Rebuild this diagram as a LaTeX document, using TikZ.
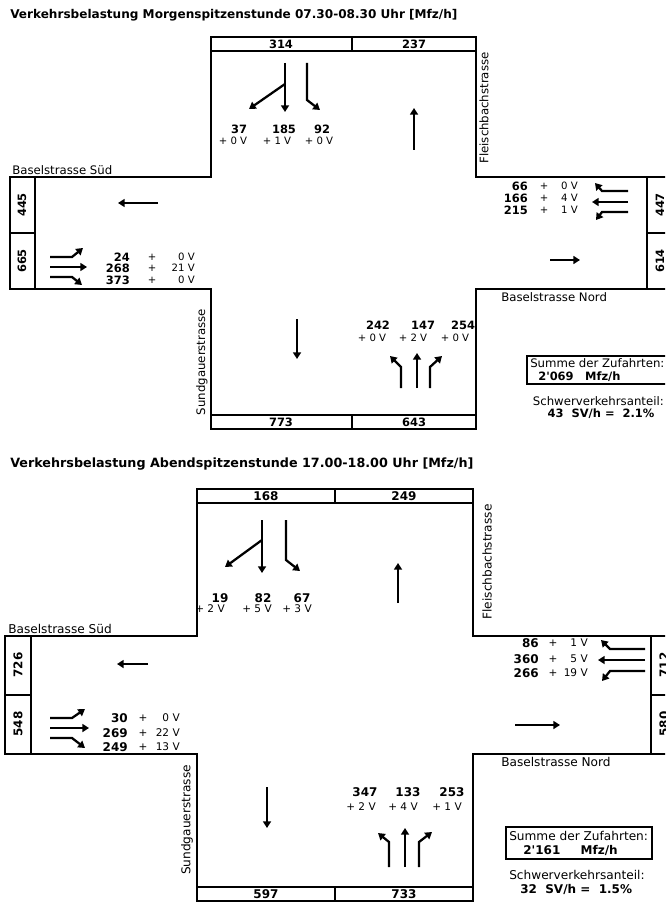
\documentclass[tikz,border=0pt]{standalone}
\usepackage{fontspec}
\setmainfont{DejaVu Sans}[Ligatures=TeXOff]
\usetikzlibrary{arrows.meta}
\newcommand{\numsize}{8.6}
\newcommand{\hvsize}{7.6}
\newcommand{\txtsize}{8.8}
\newcommand{\titlesize}{9.05}
\tikzset{
  crossline/.style={line width=0.9pt},
  flowarrow/.style={line width=1.7pt,-{Triangle[length=5pt,width=6pt]}},
  titletext/.style={font=\bfseries\fontsize{\titlesize}{11}\selectfont,anchor=west,inner sep=0pt},
  volnum/.style={font=\bfseries\fontsize{\numsize}{10}\selectfont,inner sep=0pt},
  hvtext/.style={font=\fontsize{\hvsize}{9}\selectfont,inner sep=0pt},
  streetname/.style={font=\fontsize{\txtsize}{10}\selectfont,inner sep=0pt},
  sumtext/.style={font=\fontsize{\txtsize}{10}\selectfont,inner sep=0pt},
  sumnum/.style={font=\bfseries\fontsize{\numsize}{10}\selectfont,inner sep=0pt}
}
\begin{document}
\begin{tikzpicture}[x=0.75pt,y=-0.75pt]
  \useasboundingbox (0,0) rectangle (665,902);
  \clip (0,0) rectangle (665,902);

  % Morgenspitze
  \node[titletext] (titleM) at (10,15) {Verkehrsbelastung Morgenspitzenstunde 07.30-08.30 Uhr [Mfz/h]};
  \draw[crossline] (211,37) rectangle (476,51) (352,37) -- (352,51);
  \draw[crossline] (211,51) -- (211,177) -- (10,177) -- (10,289) -- (211,289) -- (211,415);
  \draw[crossline] (476,51) -- (476,177) -- (680,177) (680,289) -- (476,289) -- (476,415);
  \draw[crossline] (211,415) rectangle (476,429) (352,415) -- (352,429);
  \draw[crossline] (35,177) -- (35,289) (10,233) -- (35,233);
  \draw[crossline] (647,177) -- (647,289) (647,233) -- (680,233);
  \node[volnum] (qnM1) at (281,44) {314};
  \node[volnum] (qnM2) at (414,44) {237};
  \node[volnum] (qsM1) at (281,422) {773};
  \node[volnum] (qsM2) at (414,422) {643};
  \node[volnum,rotate=90] (qwM1) at (22,205) {445};
  \node[volnum,rotate=90] (qwM2) at (22,261) {665};
  \node[volnum,rotate=90] (qoM1) at (660,205) {447};
  \node[volnum,rotate=90] (qoM2) at (660,261) {614};
  \node[streetname,anchor=south west] (strM1) at (12,175) {Baselstrasse Süd};
  \node[streetname,anchor=north west] (strM2) at (501,292) {Baselstrasse Nord};
  \node[streetname,rotate=90] (strM3) at (484,108) {Fleischbachstrasse};
  \node[streetname,rotate=90] (strM4) at (202,362) {Sundgauerstrasse};
  % Zufahrt Nord
  \draw[flowarrow] (285,63) -- (285,112);
  \draw[flowarrow] (285,84) -- (249,109);
  \draw[flowarrow] (307,63) -- (307,100) -- (320,110);
  \draw[flowarrow] (414,150) -- (414,108);
  \node[volnum] (nM1) at (239,129) {37};
  \node[volnum] (nM2) at (284,129) {185};
  \node[volnum] (nM3) at (322,129) {92};
  \node[hvtext] (nsvM1) at (233,141) {+ 0 V};
  \node[hvtext] (nsvM2) at (277,141) {+ 1 V};
  \node[hvtext] (nsvM3) at (319,141) {+ 0 V};
  % Zufahrt West
  \draw[flowarrow] (158,203) -- (118,203);
  \draw[flowarrow] (50,257) -- (72,257) -- (83,248);
  \draw[flowarrow] (50,267) -- (87,267);
  \draw[flowarrow] (50,277) -- (72,277) -- (82,285);
  \node[volnum,anchor=east] (wM1) at (130,257) {24};
  \node[volnum,anchor=east] (wM2) at (130,268) {268};
  \node[volnum,anchor=east] (wM3) at (130,280) {373};
  \node[hvtext] (wpM1) at (152,257) {+};
  \node[hvtext] (wpM2) at (152,268) {+};
  \node[hvtext] (wpM3) at (152,280) {+};
  \node[hvtext,anchor=east] (wsvM1) at (195,257) {0 V};
  \node[hvtext,anchor=east] (wsvM2) at (195,268) {21 V};
  \node[hvtext,anchor=east] (wsvM3) at (195,280) {0 V};
  % Zufahrt Ost
  \draw[flowarrow] (628,191) -- (602,191) -- (595,183);
  \draw[flowarrow] (628,202) -- (592,202);
  \draw[flowarrow] (628,212) -- (602,212) -- (596,220);
  \draw[flowarrow] (550,260) -- (580,260);
  \node[volnum,anchor=east] (oM1) at (528,186) {66};
  \node[volnum,anchor=east] (oM2) at (528,198) {166};
  \node[volnum,anchor=east] (oM3) at (528,210) {215};
  \node[hvtext] (opM1) at (544,186) {+};
  \node[hvtext] (opM2) at (544,198) {+};
  \node[hvtext] (opM3) at (544,210) {+};
  \node[hvtext,anchor=east] (osvM1) at (578,186) {0 V};
  \node[hvtext,anchor=east] (osvM2) at (578,198) {4 V};
  \node[hvtext,anchor=east] (osvM3) at (578,210) {1 V};
  % Zufahrt Sued
  \draw[flowarrow] (297,319) -- (297,359);
  \draw[flowarrow] (401,388) -- (401,367) -- (390,356);
  \draw[flowarrow] (417,388) -- (417,353);
  \draw[flowarrow] (430,388) -- (430,367) -- (442,356);
  \node[volnum] (sM1) at (378,325) {242};
  \node[volnum] (sM2) at (423,325) {147};
  \node[volnum] (sM3) at (463,325) {254};
  \node[hvtext] (ssvM1) at (372,338) {+ 0 V};
  \node[hvtext] (ssvM2) at (413,338) {+ 2 V};
  \node[hvtext] (ssvM3) at (455,338) {+ 0 V};
  % Summen
  \draw[crossline] (527,356) rectangle (668,384);
  \node[sumtext,anchor=west] (sumM1) at (530,363) {Summe der Zufahrten:};
  \node[sumnum,anchor=west] (sumM2) at (538,377) {2'069\quad Mfz/h};
  \node[sumtext,anchor=east] (svM1) at (664,401) {Schwerverkehrsanteil:};
  \node[sumnum] (svM2) at (601,414) {43\ \ SV/h =\ \ 2.1\%};

  % Abendspitze
  \begin{scope}
  \renewcommand{\numsize}{9}
  \renewcommand{\hvsize}{7.9}
  \renewcommand{\txtsize}{9.1}
  \renewcommand{\titlesize}{9.55}
  \node[titletext] (titleA) at (10,464) {Verkehrsbelastung Abendspitzenstunde 17.00-18.00 Uhr [Mfz/h]};
  \draw[crossline] (197,489) rectangle (473,503) (335,489) -- (335,503);
  \draw[crossline] (197,503) -- (197,636) -- (5,636) -- (5,754) -- (197,754) -- (197,887);
  \draw[crossline] (473,503) -- (473,636) -- (680,636) (680,754) -- (473,754) -- (473,887);
  \draw[crossline] (197,887) rectangle (473,901) (335,887) -- (335,901);
  \draw[crossline] (31,636) -- (31,754) (5,695) -- (31,695);
  \draw[crossline] (651,636) -- (651,754) (651,695) -- (680,695);
  \node[volnum] (qnA1) at (266,496) {168};
  \node[volnum] (qnA2) at (404,496) {249};
  \node[volnum] (qsA1) at (266,894) {597};
  \node[volnum] (qsA2) at (404,894) {733};
  \node[volnum,rotate=90] (qwA1) at (18,665) {726};
  \node[volnum,rotate=90] (qwA2) at (18,724) {548};
  \node[volnum,rotate=90] (qoA1) at (664,665) {712};
  \node[volnum,rotate=90] (qoA2) at (664,724) {580};
  \node[streetname,anchor=south west] (strA1) at (8,634) {Baselstrasse Süd};
  \node[streetname,anchor=north west] (strA2) at (501,757) {Baselstrasse Nord};
  \node[streetname,rotate=90] (strA3) at (487,562) {Fleischbachstrasse};
  \node[streetname,rotate=90] (strA4) at (187,820) {Sundgauerstrasse};
  % Zufahrt Nord
  \draw[flowarrow] (262,520) -- (262,573);
  \draw[flowarrow] (262,540) -- (225,567);
  \draw[flowarrow] (286,520) -- (286,560) -- (300,571);
  \draw[flowarrow] (398,603) -- (398,563);
  \node[volnum] (nA1) at (220,598) {19};
  \node[volnum] (nA2) at (263,598) {82};
  \node[volnum] (nA3) at (302,598) {67};
  \node[hvtext] (nsvA1) at (210,609) {+ 2 V};
  \node[hvtext] (nsvA2) at (257,609) {+ 5 V};
  \node[hvtext] (nsvA3) at (297,609) {+ 3 V};
  % Zufahrt West
  \draw[flowarrow] (148,664) -- (117,664);
  \draw[flowarrow] (50,718) -- (72,718) -- (85,709);
  \draw[flowarrow] (50,728) -- (89,728);
  \draw[flowarrow] (50,738) -- (72,738) -- (85,748);
  \node[volnum,anchor=east] (wA1) at (128,718) {30};
  \node[volnum,anchor=east] (wA2) at (128,733) {269};
  \node[volnum,anchor=east] (wA3) at (128,747) {249};
  \node[hvtext] (wpA1) at (143,718) {+};
  \node[hvtext] (wpA2) at (143,733) {+};
  \node[hvtext] (wpA3) at (143,747) {+};
  \node[hvtext,anchor=east] (wsvA1) at (180,718) {0 V};
  \node[hvtext,anchor=east] (wsvA2) at (180,733) {22 V};
  \node[hvtext,anchor=east] (wsvA3) at (180,747) {13 V};
  % Zufahrt Ost
  \draw[flowarrow] (645,649) -- (610,649) -- (601,640);
  \draw[flowarrow] (645,660) -- (598,660);
  \draw[flowarrow] (645,671) -- (610,671) -- (602,681);
  \draw[flowarrow] (515,725) -- (560,725);
  \node[volnum,anchor=east] (oA1) at (539,643) {86};
  \node[volnum,anchor=east] (oA2) at (539,659) {360};
  \node[volnum,anchor=east] (oA3) at (539,673) {266};
  \node[hvtext] (opA1) at (553,643) {+};
  \node[hvtext] (opA2) at (553,659) {+};
  \node[hvtext] (opA3) at (553,673) {+};
  \node[hvtext,anchor=east] (osvA1) at (588,643) {1 V};
  \node[hvtext,anchor=east] (osvA2) at (588,659) {5 V};
  \node[hvtext,anchor=east] (osvA3) at (588,673) {19 V};
  % Zufahrt Sued
  \draw[flowarrow] (267,787) -- (267,828);
  \draw[flowarrow] (389,867) -- (389,842) -- (378,833);
  \draw[flowarrow] (405,867) -- (405,828);
  \draw[flowarrow] (419,867) -- (419,842) -- (432,832);
  \node[volnum] (sA1) at (365,792) {347};
  \node[volnum] (sA2) at (408,792) {133};
  \node[volnum] (sA3) at (452,792) {253};
  \node[hvtext] (ssvA1) at (361,807) {+ 2 V};
  \node[hvtext] (ssvA2) at (403,807) {+ 4 V};
  \node[hvtext] (ssvA3) at (447,807) {+ 1 V};
  % Summen
  \draw[crossline] (506,827) rectangle (652,859);
  \node[sumtext,anchor=west] (sumA1) at (509,836) {Summe der Zufahrten:};
  \node[sumnum,anchor=west] (sumA2) at (523,850) {2'161\quad\ \ Mfz/h};
  \node[sumtext,anchor=west] (svA1) at (509,875) {Schwerverkehrsanteil:};
  \node[sumnum,anchor=west] (svA2) at (520,889) {32\ \ SV/h =\ \ 1.5\%};
  \end{scope}
\end{tikzpicture}
\end{document}
